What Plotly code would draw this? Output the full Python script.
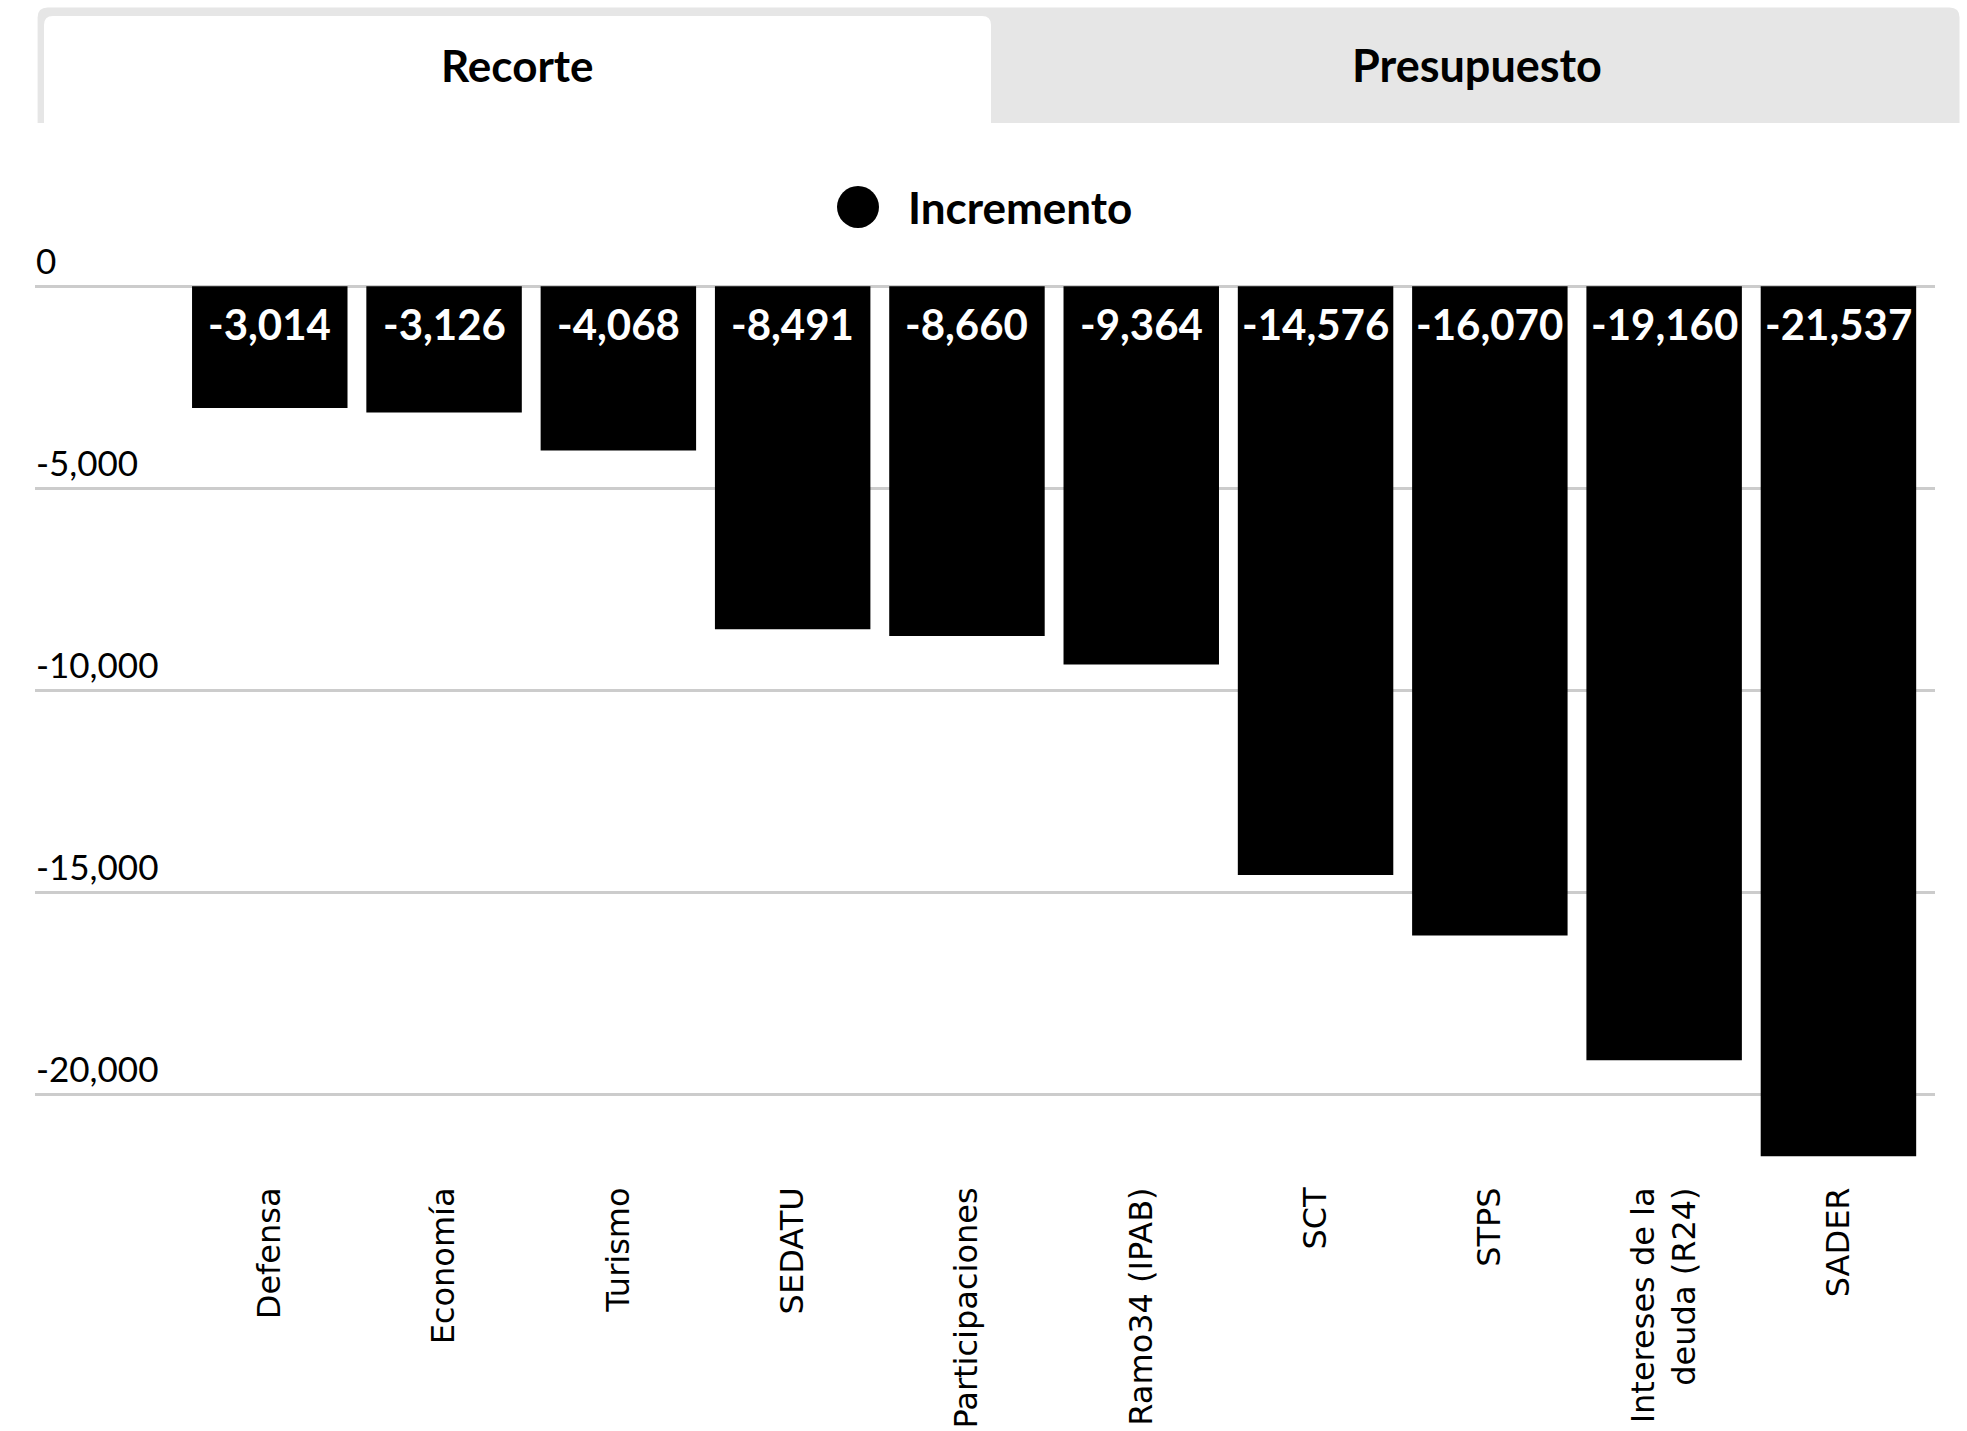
import plotly.graph_objects as go

# ---- data ----
categories = ["Defensa", "Economía", "Turismo", "SEDATU", "Participaciones",
              "Ramo34 (IPAB)", "SCT", "STPS", "Intereses de la<br>deuda (R24)", "SADER"]
values = [-3014, -3126, -4068, -8491, -8660, -9364, -14576, -16070, -19160, -21537]
series_name = "Incremento"
tick_values = [0, -5000, -10000, -15000, -20000]
tick_labels = [f"{v:,}" for v in tick_values]
tab_labels = ["Recorte", "Presupuesto"]

# ---- layout geometry (pixels) ----
W, H = 1967, 1431
L, R, T, B = 35, 32, 270, 256
PW, PH = W - L - R, H - T - B


def px_x(p):
    return (p - L) / PW


def px_y(p):
    return 1 - (p - T) / PH


def rounded_top_rect(x0, y0, x1, y1, r):
    X0, X1 = px_x(x0), px_x(x1)
    Y0, Y1 = px_y(y0), px_y(y1)  # Y0 is top
    rx, ry = r / PW, r / PH
    return (f"M {X0},{Y1} L {X0},{Y0 - ry} Q {X0},{Y0} {X0 + rx},{Y0} "
            f"L {X1 - rx},{Y0} Q {X1},{Y0} {X1},{Y0 - ry} L {X1},{Y1} Z")


fig = go.Figure()
fig.add_trace(go.Bar(
    x=categories,
    y=values,
    name=series_name,
    marker=dict(color="#000000", line=dict(width=0)),
    showlegend=False,
))

shapes = [
    dict(type="path", xref="paper", yref="paper",
         path=rounded_top_rect(37.6, 7.5, 1959.5, 123, 10),
         fillcolor="#e6e6e6", line=dict(width=0), layer="above"),
    dict(type="path", xref="paper", yref="paper",
         path=rounded_top_rect(44, 16, 991, 123, 9),
         fillcolor="#ffffff", line=dict(width=0), layer="above"),
    dict(type="circle", xref="paper", yref="paper",
         x0=px_x(858 - 21), x1=px_x(858 + 21), y0=px_y(207 + 21), y1=px_y(207 - 21),
         fillcolor="#000000", line=dict(width=0)),
]

annotations = [
    dict(text=f"<b>{tab_labels[0]}</b>", x=px_x(517), y=px_y(65), xref="paper", yref="paper",
         showarrow=False, xanchor="center", yanchor="middle",
         font=dict(family="Lato", size=44, color="#000000")),
    dict(text=f"<b>{tab_labels[1]}</b>", x=px_x(1477), y=px_y(65), xref="paper", yref="paper",
         showarrow=False, xanchor="center", yanchor="middle",
         font=dict(family="Lato", size=45, color="#000000")),
    dict(text=f"<b>{series_name}</b>", x=px_x(906), y=px_y(207), xref="paper", yref="paper",
         showarrow=False, xanchor="left", yanchor="middle",
         font=dict(family="Lato", size=44, color="#000000")),
]

# value labels at the base of each bar (data coordinates)
for cat, val in zip(categories, values):
    annotations.append(dict(
        text=f"<b>{val:,}</b>", x=cat, y=0, xref="x", yref="y",
        showarrow=False, xanchor="center", yanchor="middle", yshift=-38,
        font=dict(family="Lato", size=42, color="#ffffff"),
    ))

fig.update_layout(
    width=W, height=H,
    margin=dict(l=L, r=R, t=T, b=B, pad=0, autoexpand=False),
    paper_bgcolor="#ffffff",
    plot_bgcolor="#ffffff",
    bargap=0.108,
    shapes=shapes,
    annotations=annotations,
    showlegend=False,
)

fig.update_xaxes(
    type="category",
    automargin=False,
    range=[-1.347, 9.554],
    showgrid=False, showline=False, zeroline=False, ticks="",
    tickangle=-90,
    tickfont=dict(family="DejaVu Sans", size=32, color="#000000"),
    ticklabelstandoff=5,
)

fig.update_yaxes(
    automargin=False,
    range=[-22000, 400],
    tickmode="array", tickvals=tick_values, ticktext=tick_labels,
    showgrid=True, gridcolor="#cccccc", gridwidth=3,
    zeroline=False, showline=False, ticks="",
    ticklabelposition="inside top",
    ticklabeloverflow="allow",
    ticklabelstandoff=-2,
    tickfont=dict(family="Lato", size=35, color="#000000"),
)

fig.write_html("out.html", config={"displayModeBar": False},
               post_script="document.body.style.margin='0px';")
